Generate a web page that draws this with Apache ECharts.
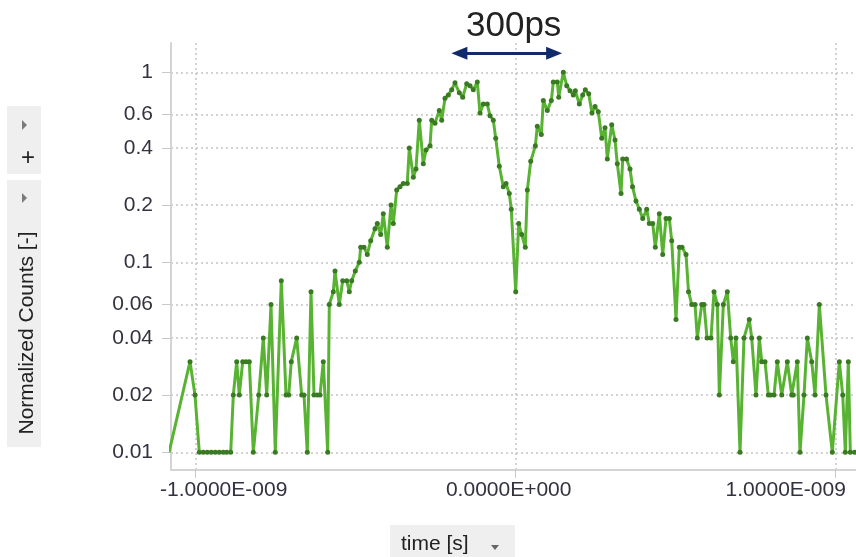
<!DOCTYPE html>
<html>
<head>
<meta charset="utf-8">
<script src="https://cdn.jsdelivr.net/npm/echarts@6/dist/echarts.min.js"></script>
<style>
  html, body { margin: 0; padding: 0; background: #ffffff; }
  #chart { width: 856px; height: 557px; }
</style>
</head>
<body>
<div id="chart"></div>
<script>
// Histogram bin times (ps) and normalized counts
const timePs = [
  -1083.4, -1017.8, -1002.2, -988.8, -976.3, -963.8, -951.3, -938.8, -926.3, -913.8,
  -903.1, -890.6, -882.5, -871.9, -863.8, -853.1, -842.8, -832.5, -820.0, -803.1,
  -788.8, -778.1, -764.7, -751.3, -732.5, -717.8, -709.4, -701.3, -684.4, -668.8,
  -661.6, -651.3, -639.7, -630.3, -620.0, -611.6, -601.3, -587.5, -582.5, -570.0,
  -564.7, -551.3, -540.6, -528.1, -520.0, -512.5, -501.3, -488.8, -484.4, -474.1,
  -463.8, -453.1, -439.7, -432.5, -421.9, -413.8, -401.3, -389.7, -382.5, -371.9,
  -361.6, -351.3, -338.8, -332.5, -320.0, -311.6, -301.3, -288.8, -280.3, -267.8,
  -262.5, -252.2, -238.8, -231.3, -220.9, -210.6, -200.0, -189.7, -176.3, -165.6,
  -153.1, -142.8, -132.5, -120.0, -111.6, -101.3, -88.8, -80.3, -70.0, -62.5,
  -51.3, -38.8, -30.3, -20.0, -13.8, 0.0, 9.4, 18.8, 30.0, 36.3,
  46.9, 61.3, 67.5, 80.0, 86.3, 98.8, 111.3, 117.5, 130.0, 134.4,
  148.8, 159.4, 169.7, 180.0, 186.3, 198.8, 209.4, 217.5, 228.1, 238.4,
  247.8, 258.1, 268.8, 279.1, 286.3, 300.0, 310.3, 317.5, 329.1, 334.4,
  346.3, 357.2, 365.0, 375.9, 386.3, 396.9, 409.4, 417.5, 428.1, 436.3,
  448.8, 459.4, 469.7, 480.0, 487.5, 500.9, 511.3, 519.7, 532.2, 540.0,
  550.0, 560.3, 567.5, 581.3, 588.4, 597.8, 610.3, 619.7, 630.0, 636.3,
  648.8, 661.3, 671.9, 680.0, 688.4, 700.9, 713.4, 730.0, 737.5, 750.9,
  761.3, 768.8, 779.1, 789.4, 796.9, 807.2, 817.5, 831.3, 848.8, 862.5,
  867.5, 880.0, 888.4, 900.9, 911.3, 925.0, 935.3, 948.8, 969.7, 989.4,
  1011.3, 1021.9, 1030.0, 1039.4, 1045.6, 1059.4, 1072.8
];
const normCounts = [
  0.01, 0.03, 0.02, 0.01, 0.01, 0.01, 0.01, 0.01, 0.01, 0.01,
  0.01, 0.01, 0.02, 0.03, 0.02, 0.03, 0.03, 0.03, 0.01, 0.02,
  0.04, 0.02, 0.06, 0.01, 0.08, 0.02, 0.02, 0.03, 0.04, 0.02,
  0.02, 0.01, 0.07, 0.02, 0.02, 0.02, 0.03, 0.01, 0.06, 0.07,
  0.09, 0.06, 0.08, 0.08, 0.07, 0.08, 0.09, 0.10, 0.12, 0.12,
  0.11, 0.13, 0.15, 0.16, 0.14, 0.18, 0.12, 0.20, 0.16, 0.24,
  0.25, 0.26, 0.26, 0.40, 0.28, 0.31, 0.56, 0.33, 0.39, 0.41,
  0.56, 0.54, 0.63, 0.56, 0.73, 0.76, 0.81, 0.88, 0.78, 0.74,
  0.87, 0.85, 0.81, 0.89, 0.61, 0.68, 0.68, 0.59, 0.56, 0.45,
  0.32, 0.25, 0.26, 0.23, 0.19, 0.07, 0.16, 0.14, 0.12, 0.24,
  0.34, 0.41, 0.52, 0.47, 0.71, 0.63, 0.71, 0.89, 0.89, 0.74,
  1.00, 0.85, 0.80, 0.76, 0.80, 0.68, 0.76, 0.81, 0.77, 0.61,
  0.66, 0.62, 0.45, 0.51, 0.35, 0.53, 0.44, 0.33, 0.23, 0.35,
  0.35, 0.31, 0.25, 0.21, 0.19, 0.17, 0.19, 0.16, 0.16, 0.12,
  0.18, 0.11, 0.17, 0.17, 0.13, 0.05, 0.12, 0.12, 0.11, 0.07,
  0.06, 0.06, 0.04, 0.06, 0.06, 0.04, 0.04, 0.07, 0.06, 0.02,
  0.06, 0.07, 0.04, 0.03, 0.04, 0.01, 0.04, 0.05, 0.04, 0.02,
  0.04, 0.03, 0.03, 0.02, 0.02, 0.02, 0.03, 0.02, 0.03, 0.02,
  0.02, 0.03, 0.01, 0.02, 0.04, 0.03, 0.02, 0.06, 0.02, 0.01,
  0.03, 0.02, 0.01, 0.03, 0.01, 0.01, 0.01
];

// Axis ticks
const yTickValues = [0.01, 0.02, 0.04, 0.06, 0.1, 0.2, 0.4, 0.6, 1];
const xTickValues = [-1000, 0, 1000];

// Peak-separation annotation (ps)
const spanText = '300ps';
const spanStart = -176;
const spanEnd = 120;
const spanLevel = 1.259;

const FONT = '"Liberation Sans", Arial, sans-serif';

function sciLabel(ps) {
  const s = ps * 1e-12;
  if (s === 0) return '0.0000E+000';
  const e = Math.floor(Math.log10(Math.abs(s)) + 1e-9);
  const m = s / Math.pow(10, e);
  return m.toFixed(4) + 'E' + (e < 0 ? '-' : '+') + String(Math.abs(e)).padStart(3, '0');
}

const seriesData = timePs.map((t, i) => [t, normCounts[i]]);

const chart = echarts.init(document.getElementById('chart'), null, { renderer: 'canvas' });

chart.setOption({
  backgroundColor: '#ffffff',
  animation: false,
  title: {
    text: spanText,
    left: 461,
    top: 4,
    textStyle: { fontSize: 35, fontWeight: 'normal', color: '#222222', fontFamily: FONT }
  },
  grid: {
    left: 171, right: 0, top: 43, bottom: 87,
    containLabel: false,
    outerBoundsMode: 'none'
  },
  xAxis: {
    type: 'value',
    min: -1077.2,
    max: 1063.4,
    axisLine: { show: true, onZero: false, lineStyle: { color: '#d4d4d4', width: 2 } },
    axisTick: {
      show: true, length: 8, customValues: xTickValues,
      lineStyle: { color: '#c8c8c8', width: 1 }
    },
    splitLine: {
      show: true,
      lineStyle: { color: '#c4c4c4', width: 1.5, type: [2, 3] }
    },
    axisLabel: {
      show: true,
      customValues: xTickValues,
      margin: 10,
      fontSize: 21,
      color: '#333340',
      fontFamily: FONT,
      hideOverlap: false,
      formatter: function (v) {
        const txt = sciLabel(v);
        if (v < 0) return '{l|' + txt + '}';
        if (v > 0) return '{r|' + txt + '}';
        return '{c|' + txt + '}';
      },
      rich: {
        l: { fontSize: 21, color: '#333340', fontFamily: FONT, padding: [0, 0, 0, 56] },
        c: { fontSize: 21, color: '#333340', fontFamily: FONT, padding: [0, 14, 0, 0] },
        r: { fontSize: 21, color: '#333340', fontFamily: FONT, padding: [0, 100, 0, 0] }
      }
    }
  },
  yAxis: {
    type: 'log',
    logBase: 10,
    min: 0.00807,
    max: 1.426,
    axisLine: { show: true, onZero: false, lineStyle: { color: '#d4d4d4', width: 2 } },
    axisTick: {
      show: true, length: 9, customValues: yTickValues,
      lineStyle: { color: '#c8c8c8', width: 1 }
    },
    splitLine: {
      show: true,
      lineStyle: { color: '#c4c4c4', width: 1.5, type: [2, 3] }
    },
    minorTick: { show: false },
    minorSplitLine: { show: false },
    axisLabel: {
      show: true,
      customValues: yTickValues,
      margin: 18,
      fontSize: 21,
      color: '#333340',
      fontFamily: FONT,
      hideOverlap: false,
      formatter: function (v) { return String(+(+v).toPrecision(6)); }
    }
  },
  series: [{
    type: 'line',
    data: seriesData,
    clip: true,
    showSymbol: true,
    symbol: 'circle',
    symbolSize: 5,
    lineStyle: { color: '#58b332', width: 3 },
    itemStyle: { color: '#3a7a22' },
    emphasis: { disabled: true },
    markLine: {
      silent: true,
      symbol: ['triangle', 'triangle'],
      symbolSize: [13, 16],
      label: { show: false },
      lineStyle: { color: '#102a6a', width: 3, type: 'solid' },
      data: [[
        { coord: [spanStart, spanLevel] },
        { coord: [spanEnd, spanLevel] }
      ]]
    }
  }],
  graphic: [
    // side control panel
    { type: 'rect', shape: { x: 7, y: 106, width: 34, height: 68 }, style: { fill: '#efefef' } },
    { type: 'polygon', shape: { points: [[22, 120], [27, 125], [22, 130]] }, style: { fill: '#7a7a7a' } },
    { type: 'text', x: 28, y: 158, style: { text: '+', font: '24px ' + FONT, fill: '#222222', align: 'center', verticalAlign: 'middle' } },
    { type: 'rect', shape: { x: 7, y: 180, width: 34, height: 267 }, style: { fill: '#efefef' } },
    { type: 'polygon', shape: { points: [[22, 193], [27, 198], [22, 203]] }, style: { fill: '#7a7a7a' } },
    { type: 'text', x: 27, y: 333, rotation: Math.PI / 2,
      style: { text: 'Normalized Counts [-]', font: '21px ' + FONT, fill: '#222222', align: 'center', verticalAlign: 'middle' } },
    // x-axis name selector
    { type: 'rect', shape: { x: 390, y: 525, width: 125, height: 40 }, style: { fill: '#efefef' } },
    { type: 'text', x: 401, y: 544, style: { text: 'time [s]', font: '21px ' + FONT, fill: '#222222', align: 'left', verticalAlign: 'middle' } },
    { type: 'polygon', shape: { points: [[491, 545], [499, 545], [495, 550]] }, style: { fill: '#666666' } }
  ]
});
</script>
</body>
</html>
